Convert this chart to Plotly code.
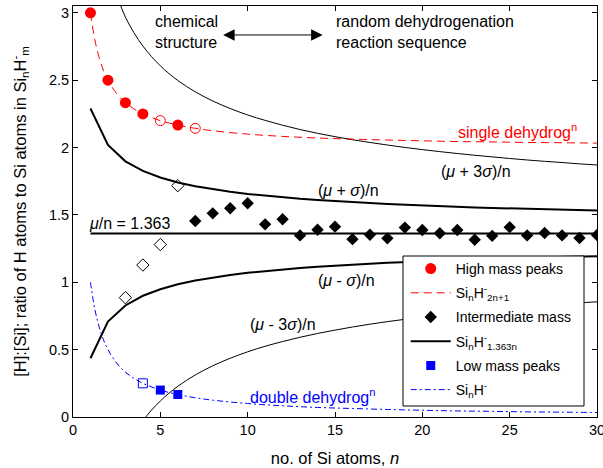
import plotly.graph_objects as go

# ---------------- data ----------------
# High mass peaks (filled) and unresolved (open)
n_high = [1, 2, 3, 4, 6]
r_high = [3.0, 2.5, 2.333, 2.25, 2.167]
n_high_open = [5, 7]
r_high_open = [2.2, 2.143]

# Si_nH_(2n+1) single dehydrogenation curve
n_curve = [1, 1.25, 1.5, 1.75, 2, 2.5, 3, 3.5, 4, 5, 6, 7, 8, 10, 12, 14, 16, 18, 20, 22, 24, 26, 28, 30]
r_single = [3.0, 2.8, 2.667, 2.571, 2.5, 2.4, 2.333, 2.286, 2.25, 2.2, 2.167, 2.143, 2.125, 2.1, 2.083,
            2.071, 2.063, 2.056, 2.05, 2.045, 2.042, 2.038, 2.036, 2.033]
# Si_nH double dehydrogenation curve
r_double = [1.0, 0.8, 0.667, 0.571, 0.5, 0.4, 0.333, 0.286, 0.25, 0.2, 0.167, 0.143, 0.125, 0.1, 0.083,
            0.071, 0.063, 0.056, 0.05, 0.045, 0.042, 0.038, 0.036, 0.033]

# Intermediate mass peaks
n_inter_open = [3, 4, 5, 6]
r_inter_open = [0.886, 1.128, 1.28, 1.717]
n_inter = [7, 8, 9, 10, 11, 12, 13, 14, 15, 16, 17, 18, 19, 20, 21, 22, 23, 24, 25, 26, 27, 28, 29, 30]
r_inter = [1.455, 1.512, 1.55, 1.587, 1.43, 1.468, 1.348, 1.39, 1.413, 1.32, 1.353, 1.326, 1.406, 1.388,
           1.364, 1.388, 1.316, 1.345, 1.409, 1.348, 1.366, 1.348, 1.329, 1.351]

# Low mass peaks
n_low = [5, 6]
r_low = [0.2, 0.167]
n_low_open = [4]
r_low_open = [0.25]

# mean line and sigma bands
n_int = list(range(1, 31))
r_mean = [1.363] * 30
r_plus1 = [2.290, 2.019, 1.898, 1.827, 1.778, 1.741, 1.713, 1.691, 1.672, 1.656, 1.643, 1.631, 1.620, 1.611,
           1.602, 1.595, 1.588, 1.582, 1.576, 1.570, 1.565, 1.561, 1.556, 1.552, 1.548, 1.545, 1.541, 1.538,
           1.535, 1.532]
r_minus1 = [0.436, 0.708, 0.828, 0.900, 0.948, 0.985, 1.013, 1.035, 1.054, 1.070, 1.083, 1.095, 1.106, 1.115,
            1.124, 1.131, 1.138, 1.145, 1.150, 1.156, 1.161, 1.165, 1.170, 1.174, 1.178, 1.181, 1.185, 1.188,
            1.191, 1.194]
n_3s = list(range(2, 31))
r_plus3 = [3.330, 2.969, 2.754, 2.607, 2.498, 2.414, 2.346, 2.290, 2.242, 2.202, 2.166, 2.134, 2.106, 2.081,
           2.058, 2.038, 2.019, 2.001, 1.985, 1.970, 1.956, 1.943, 1.931, 1.919, 1.908, 1.898, 1.889, 1.879,
           1.871]
r_minus3 = [-0.604, -0.243, -0.028, 0.119, 0.228, 0.312, 0.380, 0.436, 0.484, 0.525, 0.560, 0.592, 0.620,
            0.645, 0.668, 0.689, 0.708, 0.725, 0.741, 0.756, 0.770, 0.783, 0.795, 0.807, 0.818, 0.828, 0.837,
            0.847, 0.855]

x_ticks = [0, 5, 10, 15, 20, 25, 30]
y_ticks = [0, 0.5, 1, 1.5, 2, 2.5, 3]
y_ticktext = ["0", "0.5", "1", "1.5", "2", "2.5", "3"]

FONT = "Arial, 'Liberation Sans', sans-serif"
RED = "#ff0000"
BLUE = "#0000ff"

fig = go.Figure()

# background curves (not in legend)
fig.add_trace(go.Scatter(x=n_3s, y=r_plus3, mode="lines", line=dict(color="black", width=1, shape="spline"),
                         showlegend=False, hoverinfo="skip"))
fig.add_trace(go.Scatter(x=n_3s, y=r_minus3, mode="lines", line=dict(color="black", width=1, shape="spline"),
                         showlegend=False, hoverinfo="skip"))
fig.add_trace(go.Scatter(x=n_int, y=r_plus1, mode="lines", line=dict(color="black", width=2),
                         showlegend=False))
fig.add_trace(go.Scatter(x=n_int, y=r_minus1, mode="lines", line=dict(color="black", width=2),
                         showlegend=False))

# legend traces in order
fig.add_trace(go.Scatter(x=n_high, y=r_high, mode="markers", name="High mass peaks",
                         marker=dict(symbol="circle", color=RED, size=11), legendgroup="a"))
fig.add_trace(go.Scatter(x=n_curve, y=r_single, mode="lines", name="Si<sub>n</sub>H<sup>-</sup><sub>2n+1</sub>",
                         line=dict(color=RED, width=1, dash="8px,5px", shape="spline"), legendgroup="b"))
fig.add_trace(go.Scatter(x=n_inter, y=r_inter, mode="markers", name="Intermediate mass",
                         marker=dict(symbol="diamond", color="black", size=9.5), legendgroup="c"))
fig.add_trace(go.Scatter(x=n_int, y=r_mean, mode="lines", name="Si<sub>n</sub>H<sup>-</sup><sub>1.363n</sub>",
                         line=dict(color="black", width=2), legendgroup="d"))
fig.add_trace(go.Scatter(x=n_low, y=r_low, mode="markers", name="Low mass peaks",
                         marker=dict(symbol="square", color=BLUE, size=9), legendgroup="e"))
fig.add_trace(go.Scatter(x=n_curve, y=r_double, mode="lines", name="Si<sub>n</sub>H<sup>-</sup>",
                         line=dict(color=BLUE, width=1, dash="6px,3px,2px,3px", shape="spline"), legendgroup="f"))

# open markers (not in legend)
fig.add_trace(go.Scatter(x=n_high_open, y=r_high_open, mode="markers", showlegend=False,
                         marker=dict(symbol="circle-open", color=RED, size=10, line=dict(width=1))))
fig.add_trace(go.Scatter(x=n_inter_open, y=r_inter_open, mode="markers", showlegend=False,
                         marker=dict(symbol="diamond-open", color="black", size=9.5, line=dict(width=1))))
fig.add_trace(go.Scatter(x=n_low_open, y=r_low_open, mode="markers", showlegend=False,
                         marker=dict(symbol="square-open", color=BLUE, size=9, line=dict(width=1))))

ann_font = dict(family=FONT, size=16, color="black")
annotations = [
    dict(x=4.57, y=2.858, text="chemical<br>structure", align="left"),
    dict(x=14.97, y=2.858, text="random dehydrogenation<br>reaction sequence", align="left"),
    dict(x=21.94, y=2.12, text="single dehydrog<sup>n</sup>", font=dict(family=FONT, size=16, color=RED)),
    dict(x=20.97, y=1.819, text="(<i>μ</i> + 3<i>σ</i>)/n"),
    dict(x=13.94, y=1.678, text="(<i>μ</i> + <i>σ</i>)/n"),
    dict(x=0.8, y=1.44, text="<i>μ</i>/n = 1.363"),
    dict(x=13.94, y=1.017, text="(<i>μ</i> - <i>σ</i>)/n"),
    dict(x=10.0, y=0.683, text="(<i>μ</i> - 3<i>σ</i>)/n"),
    dict(x=10.0, y=0.155, text="double dehydrog<sup>n</sup>", font=dict(family=FONT, size=16, color=BLUE)),
]
for a in annotations:
    a.setdefault("font", ann_font)
    a.update(xref="x", yref="y", xanchor="left", yanchor="middle", showarrow=False)
    fig.add_annotation(**a)

# double-headed arrow
fig.add_annotation(x=14.29, y=2.836, ax=8.51, ay=2.836, xref="x", yref="y", axref="x", ayref="y",
                   text="", showarrow=True, arrowhead=2, startarrowhead=2, arrowside="end+start",
                   arrowsize=2.3, startarrowsize=2.3, arrowwidth=1, arrowcolor="black")

# legend box (drawn as a shape so its size matches the reference)
fig.add_shape(type="rect", xref="paper", yref="paper", x0=0.6298, x1=0.9752, y0=0.0268, y1=0.3917,
              fillcolor="white", line=dict(color="black", width=1), layer="above")

axis_common = dict(showgrid=False, zeroline=False, showline=True, linecolor="black", linewidth=1,
                   mirror="ticks", ticks="inside", ticklen=5, tickcolor="black", automargin=False,
                   tickfont=dict(family=FONT, size=14.5, color="black"))

fig.update_layout(
    width=603, height=468,
    margin=dict(l=73, r=6, t=6, b=51),
    paper_bgcolor="white", plot_bgcolor="white",
    font=dict(family=FONT, color="black"),
    xaxis=dict(range=[0, 30], tickvals=x_ticks, ticklabeloverflow="allow",
               title=dict(text="no. of Si atoms, <i>n</i>", font=dict(family=FONT, size=16.5), standoff=15),
               **axis_common),
    yaxis=dict(range=[0, 3.051], tickvals=y_ticks, ticktext=y_ticktext,
               title=dict(text="[H]:[Si]; ratio of H atoms to Si atoms in Si<sub>n</sub>H<sup>-</sup><sub>m</sub>",
                          font=dict(family=FONT, size=16.5), standoff=18),
               **axis_common),
    legend=dict(x=0.635, y=0.399, xanchor="left", yanchor="top", bgcolor="rgba(0,0,0,0)",
                borderwidth=0, font=dict(family=FONT, size=14),
                traceorder="grouped", tracegroupgap=3, itemwidth=40),
)

fig.write_html("out.html")
